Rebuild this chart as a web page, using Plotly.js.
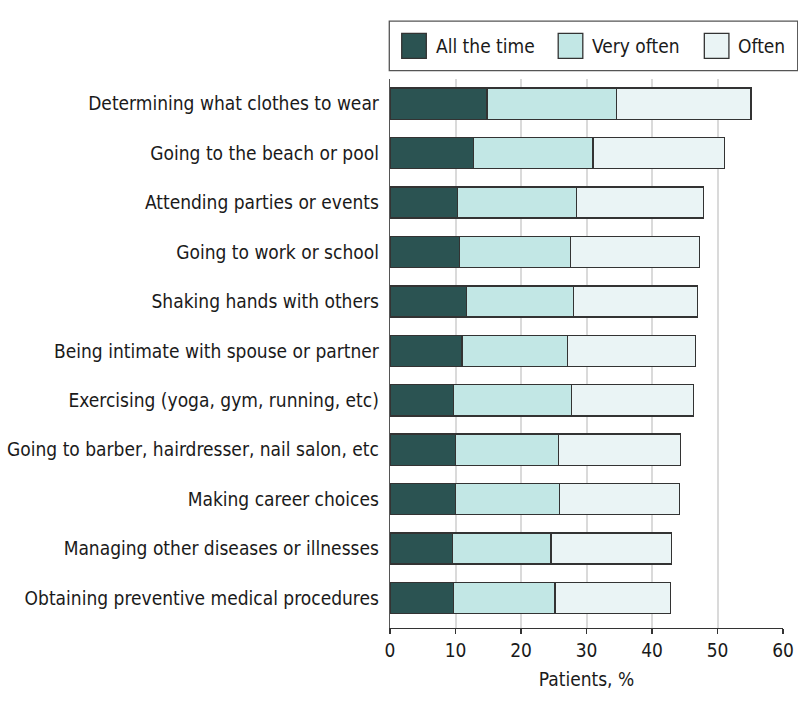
<!DOCTYPE html>
<html>
<head>
<meta charset="utf-8">
<script src="https://cdn.plot.ly/plotly-3.0.1.min.js"></script>
<style>html,body{margin:0;padding:0;background:#fff;}#chart{width:798px;height:710px;}</style>
</head>
<body>
<div id="chart"></div>
<script>
var categories = [
  "Determining what clothes to wear",
  "Going to the beach or pool",
  "Attending parties or events",
  "Going to work or school",
  "Shaking hands with others",
  "Being intimate with spouse or partner",
  "Exercising (yoga, gym, running, etc)",
  "Going to barber, hairdresser, nail salon, etc",
  "Making career choices",
  "Managing other diseases or illnesses",
  "Obtaining preventive medical procedures"
];
var allTheTime = [14.8, 12.7, 10.3, 10.6, 11.7, 11.0, 9.7, 10.0, 10.0, 9.5, 9.7];
var veryOften  = [19.8, 18.3, 18.2, 17.0, 16.3, 16.1, 18.0, 15.7, 15.9, 15.1, 15.5];
var often      = [20.5, 20.1, 19.4, 19.7, 18.9, 19.5, 18.6, 18.7, 18.3, 18.4, 17.6];
var seriesNames = ["All the time", "Very often", "Often"];
var xTicks = [0, 10, 20, 30, 40, 50, 60];

var colors = ["#2b5352", "#c2e7e5", "#eaf4f5"];
var FONT = "'DejaVu Sans Condensed', 'Liberation Sans Narrow', sans-serif";
var FS = 19;

var seriesVals = [allTheTime, veryOften, often];
var traces = seriesVals.map(function (vals, i) {
  return {
    type: "bar",
    orientation: "h",
    name: seriesNames[i],
    x: vals,
    y: categories,
    width: 0.63,
    marker: {color: colors[i], line: {color: "#333333", width: 1.3}},
    showlegend: false,
    hoverinfo: "x+y"
  };
});

// custom legend (box + large swatches + labels)
var shapes = [{
  type: "rect", xref: "paper", yref: "paper",
  x0: -0.0018, x1: 1.0374, y0: 1.0151, y1: 1.1056,
  line: {color: "#555", width: 1.3}, fillcolor: "rgba(0,0,0,0)"
}];
var annotations = [];
var swX = [0.0298, 0.428, 0.7998];
for (var i = 0; i < 3; i++) {
  shapes.push({
    type: "rect", xref: "paper", yref: "paper",
    x0: swX[i], x1: swX[i] + 0.0626, y0: 1.0377, y1: 1.0832,
    line: {color: "#333333", width: 1.3}, fillcolor: colors[i]
  });
  annotations.push({
    xref: "paper", yref: "paper", x: swX[i] + 0.0812, y: 1.0601,
    xanchor: "left", yanchor: "middle", showarrow: false,
    text: seriesNames[i], font: {family: FONT, size: FS, color: "#1a1a1a"}
  });
}

var layout = {
  width: 798, height: 710,
  margin: {l: 390, r: 15, t: 79, b: 82},
  paper_bgcolor: "#fff", plot_bgcolor: "#fff",
  barmode: "stack",
  bargap: 0.37,
  font: {family: FONT, size: FS, color: "#1a1a1a"},
  showlegend: false,
  xaxis: {
    range: [0, 60], tickvals: xTicks, ticktext: xTicks.map(String),
    showgrid: true, gridcolor: "#dadada", gridwidth: 2,
    zeroline: false, showline: true, linecolor: "#333", linewidth: 1.3,
    ticks: "outside", ticklen: 5, tickcolor: "#333", tickwidth: 1.3,
    tickfont: {family: FONT, size: FS, color: "#1a1a1a"},
    title: {text: "Patients, %", font: {family: FONT, size: FS, color: "#1a1a1a"}, standoff: 12}
  },
  yaxis: {
    type: "category", categoryorder: "array", categoryarray: categories,
    range: [10.607, -0.5],
    showgrid: false, zeroline: false, showline: true, linecolor: "#555", linewidth: 1.3,
    ticks: "", ticklabelstandoff: 6,
    tickfont: {family: FONT, size: FS, color: "#1a1a1a"}
  },
  shapes: shapes,
  annotations: annotations
};

Plotly.newPlot("chart", traces, layout, {displayModeBar: false, staticPlot: true});
</script>
</body>
</html>
